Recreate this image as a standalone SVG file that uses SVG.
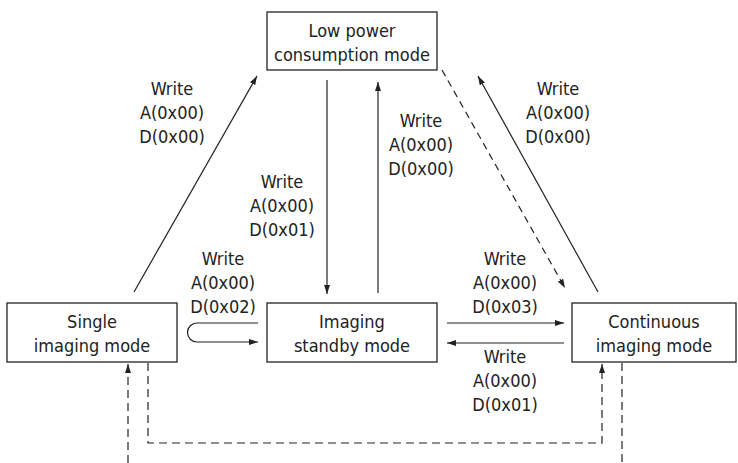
<svg xmlns="http://www.w3.org/2000/svg" width="738" height="463" viewBox="0 0 738 463">
<defs>
<marker id="ah" markerWidth="9" markerHeight="6" refX="9" refY="3" orient="auto" markerUnits="userSpaceOnUse">
<path d="M0,0 L9,3 L0,6 z" fill="#222"/>
</marker>
<style>
.box{fill:#fff;stroke:#222;stroke-width:1.3}
.t{font-family:"DejaVu Sans Condensed","DejaVu Sans",sans-serif;font-size:18px;fill:#222;text-anchor:middle}
.c{fill:none;stroke:#222;stroke-width:1.2}
.d{stroke-dasharray:8,5}
</style>
</defs>
<rect width="738" height="463" fill="#fff"/>
<g id="low-power">
<rect class="box" x="267" y="12" width="170" height="58"/>
<text class="t" x="352" y="37">Low power</text>
<text class="t" x="352" y="61">consumption mode</text>
</g>
<g id="single">
<rect class="box" x="7" y="303" width="170" height="59"/>
<text class="t" x="92" y="328">Single</text>
<text class="t" x="92" y="352">imaging mode</text>
</g>
<g id="standby">
<rect class="box" x="267" y="303" width="170" height="59"/>
<text class="t" x="352" y="328">Imaging</text>
<text class="t" x="352" y="352">standby mode</text>
</g>
<g id="continuous">
<rect class="box" x="572" y="303" width="164" height="59"/>
<text class="t" x="654" y="328">Continuous</text>
<text class="t" x="654" y="352">imaging mode</text>
</g>
<g id="connectors">
<path class="c" d="M134,292 L257,76" marker-end="url(#ah)"/>
<path class="c" d="M598,292 L478,76" marker-end="url(#ah)"/>
<path class="c" d="M442,70 L565,288" stroke-dasharray="7,5" marker-end="url(#ah)"/>
<path class="c" d="M327,80 V294" marker-end="url(#ah)"/>
<path class="c" d="M378,293 V82" marker-end="url(#ah)"/>
<path class="c" d="M258,323 H197 A9.5,9.5 0 0 0 197,342 H258" marker-end="url(#ah)"/>
<path class="c" d="M447,323 H564" marker-end="url(#ah)"/>
<path class="c" d="M564,343 H447" marker-end="url(#ah)"/>
<path class="c d" d="M128,463 V364" marker-end="url(#ah)"/>
<path class="c d" d="M148,363 V443 H602 V364" marker-end="url(#ah)"/>
<path class="c d" d="M622,363 V463"/>
<g id="labels">
<text class="t" x="172" y="95">Write</text>
<text class="t" x="172" y="119">A(0x00)</text>
<text class="t" x="172" y="143">D(0x00)</text>
<text class="t" x="558" y="95">Write</text>
<text class="t" x="558" y="119">A(0x00)</text>
<text class="t" x="558" y="143">D(0x00)</text>
<text class="t" x="421" y="127">Write</text>
<text class="t" x="421" y="151">A(0x00)</text>
<text class="t" x="421" y="175">D(0x00)</text>
<text class="t" x="282" y="188">Write</text>
<text class="t" x="282" y="212">A(0x00)</text>
<text class="t" x="282" y="236">D(0x01)</text>
<text class="t" x="223" y="265">Write</text>
<text class="t" x="223" y="289">A(0x00)</text>
<text class="t" x="223" y="313">D(0x02)</text>
<text class="t" x="505" y="265">Write</text>
<text class="t" x="505" y="289">A(0x00)</text>
<text class="t" x="505" y="313">D(0x03)</text>
<text class="t" x="505" y="363">Write</text>
<text class="t" x="505" y="387">A(0x00)</text>
<text class="t" x="505" y="411">D(0x01)</text>
</g>
</g>
</svg>
